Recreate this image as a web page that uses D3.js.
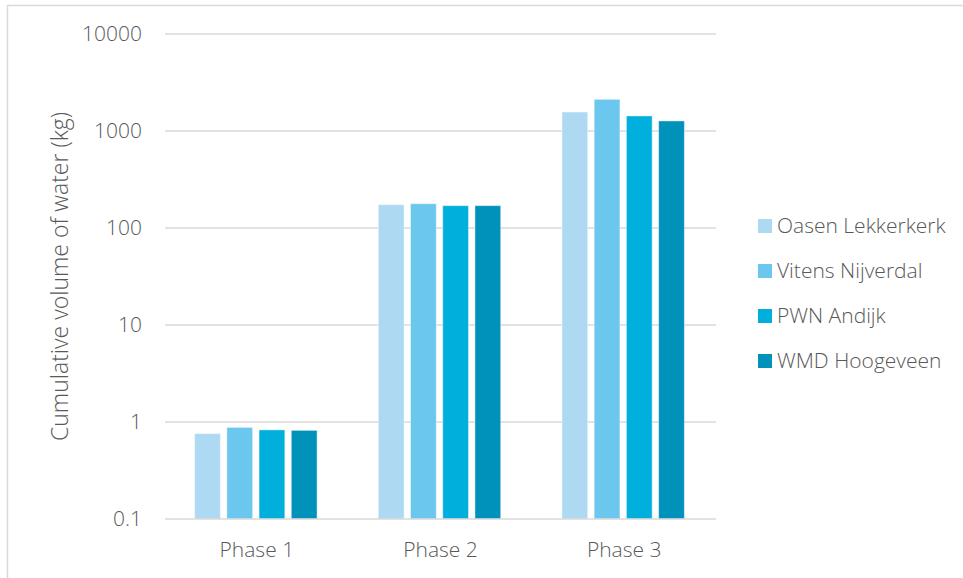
<!DOCTYPE html>
<html>
<head>
<meta charset="utf-8">
<script src="https://cdn.jsdelivr.net/npm/d3@7"></script>
<style>
  html, body { margin: 0; padding: 0; background: #fff; }
  svg { display: block; }
  text { font-family: "Open Sans", "Segoe UI", sans-serif; font-weight: 300; fill: #595959; }
</style>
</head>
<body>
<svg id="chart" width="963" height="578"></svg>
<script>
// Cumulative volume of water per phase, per site
const phases = ["Phase 1", "Phase 2", "Phase 3"];
const sites = ["Oasen Lekkerkerk", "Vitens Nijverdal", "PWN Andijk", "WMD Hoogeveen"];
const oasenLekkerkerk = [0.76, 174, 1570];
const vitensNijverdal = [0.88, 178, 2120];
const pwnAndijk = [0.83, 170, 1430];
const wmdHoogeveen = [0.82, 170, 1270];
const siteColors = ["#addaf2", "#6bc7ed", "#00afdb", "#0092bb"];
const yTicks = [0.1, 1, 10, 100, 1000, 10000];
const yTitle = "Cumulative volume of water (kg)";

const seriesValues = [oasenLekkerkerk, vitensNijverdal, pwnAndijk, wmdHoogeveen];

const svg = d3.select("#chart");

// Chart frame (top and left edges)
svg.append("line").attr("x1", 7).attr("x2", 963).attr("y1", 5.5).attr("y2", 5.5)
  .attr("stroke", "#d9d9d9").attr("stroke-width", 1.5);
svg.append("line").attr("x1", 7.5).attr("x2", 7.5).attr("y1", 5).attr("y2", 578)
  .attr("stroke", "#d9d9d9").attr("stroke-width", 1.5);

const plot = { left: 165, right: 716, top: 34, bottom: 519 };

const y = d3.scaleLog().domain([0.1, 10000]).range([plot.bottom, plot.top]);
const x0 = d3.scaleBand().domain(phases).range([plot.left, plot.right]).paddingInner(0).paddingOuter(0);
const x1 = d3.scaleBand().domain(sites).range([0, x0.bandwidth()]).paddingInner(0.2).paddingOuter(0.95);

// Gridlines
svg.append("g").selectAll("line").data(yTicks.slice(1)).join("line")
  .attr("x1", plot.left).attr("x2", plot.right)
  .attr("y1", d => y(d)).attr("y2", d => y(d))
  .attr("stroke", "#d9d9d9").attr("stroke-width", 1.3);

// Y axis labels
const yAxis = d3.axisLeft(y).tickValues(yTicks).tickSize(0).tickPadding(0)
  .tickFormat(d => d3.format("~g")(d));
const ya = svg.append("g").attr("transform", `translate(${plot.left - 23},0)`).call(yAxis);
ya.select(".domain").remove();
ya.selectAll("text").attr("font-size", 21).attr("dy", "0.33em")
  .style("font-family", "'Open Sans', sans-serif").style("font-weight", 300).attr("fill", "#595959");

// Bars
const groups = svg.append("g").selectAll("g").data(phases).join("g")
  .attr("transform", d => `translate(${x0(d)},0)`);
groups.selectAll("rect")
  .data((p, i) => sites.map((s, j) => ({ site: s, value: seriesValues[j][i], color: siteColors[j] })))
  .join("rect")
  .attr("x", d => x1(d.site) - 1)
  .attr("width", x1.bandwidth())
  .attr("y", d => y(d.value))
  .attr("height", d => y(0.1) - y(d.value))
  .attr("fill", d => d.color)
  .attr("stroke", "#ffffff").attr("stroke-opacity", 0.45).attr("stroke-width", 1);

// Baseline axis
svg.append("line").attr("x1", plot.left).attr("x2", plot.right)
  .attr("y1", y(0.1)).attr("y2", y(0.1))
  .attr("stroke", "#d9d9d9").attr("stroke-width", 1.6);

// X axis labels
const xAxis = d3.axisBottom(x0).tickSize(0).tickPadding(0);
const xa = svg.append("g").attr("transform", `translate(0,${plot.bottom + 31})`).call(xAxis);
xa.select(".domain").remove();
xa.selectAll("text").attr("font-size", 21).attr("dy", "0.35em").attr("y", 0)
  .style("font-family", "'Open Sans', sans-serif").style("font-weight", 300).attr("fill", "#595959");

// Y axis title
svg.append("text")
  .attr("transform", `translate(68,${(plot.top + plot.bottom) / 2}) rotate(-90)`)
  .attr("text-anchor", "middle").attr("font-size", 23)
  .text(yTitle);

// Legend
const legend = svg.append("g").selectAll("g").data(sites).join("g")
  .attr("transform", (d, i) => `translate(758,${226 + i * 45})`);
legend.append("rect").attr("x", 0).attr("y", -7).attr("width", 14).attr("height", 14)
  .attr("fill", (d, i) => siteColors[i]);
legend.append("text").attr("x", 19).attr("dy", "0.35em").attr("font-size", 21)
  .text(d => d);
</script>
</body>
</html>
